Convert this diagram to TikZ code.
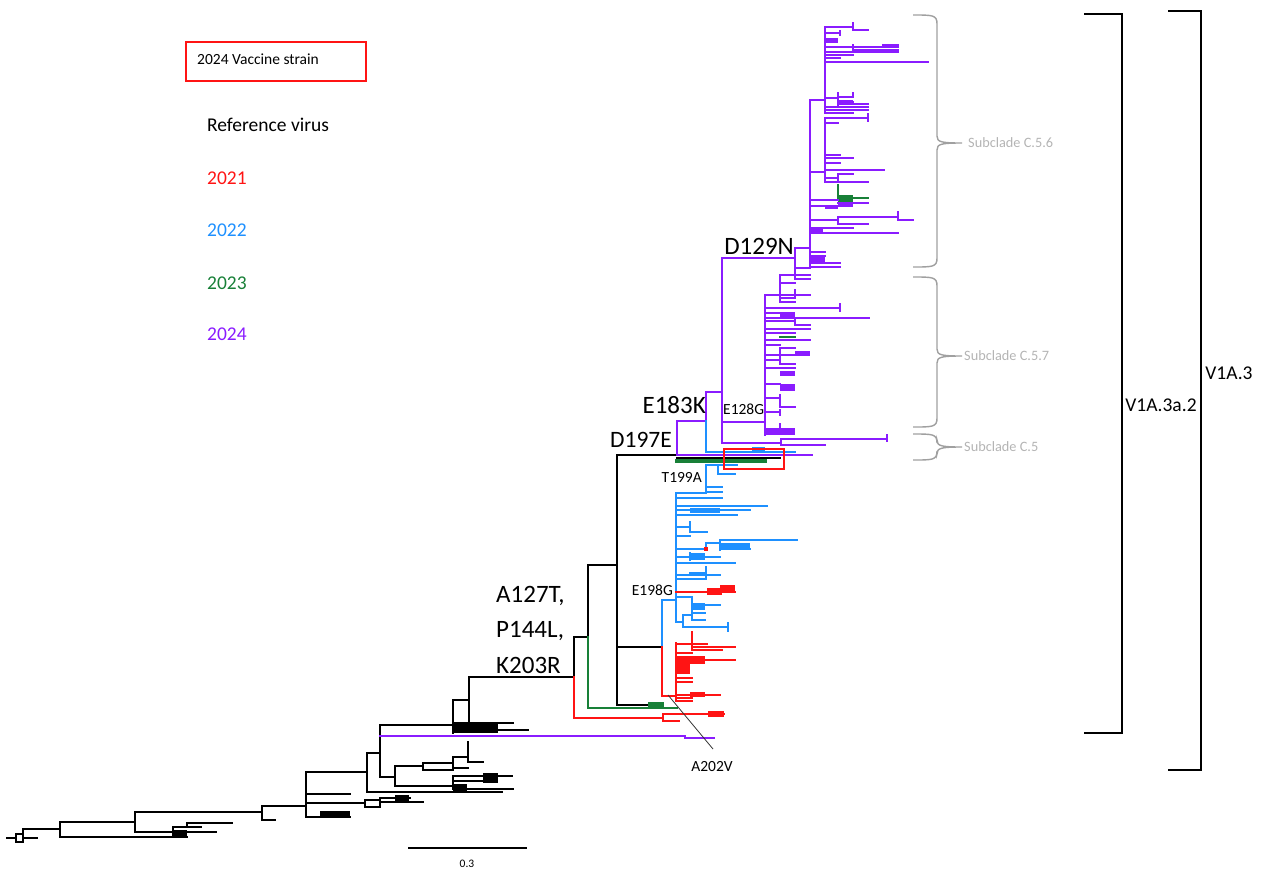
\documentclass[tikz,border=0pt]{standalone}
\usepackage{fontspec}
\setmainfont{Carlito}
\definecolor{cpu}{HTML}{8A1CFF}
\definecolor{cbl}{HTML}{1E90FF}
\definecolor{crd}{HTML}{FF1414}
\definecolor{cgr}{HTML}{188038}
\definecolor{cgy}{HTML}{A0A0A0}
\definecolor{clt}{HTML}{B4B4B4}
\newcommand{\subbrace}[3]{%
  \draw[cgy,line width=1.4pt] (913,#1) .. controls (933,#1) and (937,#1) .. (937,#1+9)
    -- (937,#3-7) .. controls (937,#3-1) and (941,#3) .. (962,#3)
    .. controls (941,#3) and (937,#3+1) .. (937,#3+7)
    -- (937,#2-9) .. controls (937,#2) and (933,#2) .. (913,#2);}
\tikzset{
  tk/.style={draw=black,line width=2.8pt,line cap=rect},
  tp/.style={draw=cpu,line width=2.8pt,line cap=rect},
  tb/.style={draw=cbl,line width=2.8pt,line cap=rect},
  tr/.style={draw=crd,line width=2.8pt,line cap=rect},
  tg/.style={draw=cgr,line width=2.8pt,line cap=rect},
  mut/.style={font=\fontsize{25}{30}\selectfont,inner sep=0pt},
  smut/.style={font=\fontsize{15.5}{18}\selectfont,inner sep=0pt},
  leg/.style={font=\fontsize{19.5}{23}\selectfont,inner sep=0pt,anchor=west},
  sub/.style={font=\fontsize{14.3}{17}\selectfont,text=clt,inner sep=0pt,anchor=west},
  clade/.style={font=\fontsize{19.5}{23}\selectfont,inner sep=0pt},
}
\begin{document}
\begin{tikzpicture}[x=1pt,y=-1pt]
\useasboundingbox (0,0) rectangle (1263,873);
% ---------------- root region (black)
\draw[tk] (7,838)--(16,838) (16,834)--(16,842) (16,834)--(23,834) (16,842)--(23,842);
\draw[tk] (23,829)--(23,842) (23,829)--(60,829) (23,838)--(37,838);
\draw[tk] (60,822)--(60,837) (60,837)--(187,837) (60,822)--(135,822);
\draw[tk] (135,812)--(135,832) (135,832)--(173,832) (173,827)--(173,837);
\draw[tk] (173,827)--(187,827) (187,823)--(187,827) (187,823)--(232,823) (187,827)--(201,827) (187,832)--(216,832);
\fill (173,830) rectangle (187,838);
\draw[tk] (135,812)--(262,812) (262,806)--(262,820) (262,820)--(275,820) (262,806)--(306,806);
% node 306
\draw[tk] (306,772)--(306,817) (306,772)--(367,772) (306,794)--(350,794) (306,803)--(365,803);
\draw[tk] (365,800)--(365,807) (365,800)--(380,800) (365,807)--(380,807) (380,798)--(380,807);
\draw[tk] (380,798)--(410,798) (380,802)--(423,802);
\fill (395,795) rectangle (409,803);
\draw[tk] (306,817)--(350,817);
\fill (320,811) rectangle (350,818);
% node 367
\draw[tk] (367,753)--(367,792) (367,753)--(380,753) (367,792)--(502,792) (453,789)--(513,789);
\fill (453,784) rectangle (467,792);
% node 380
\draw[tk] (380,725)--(380,777) (380,725)--(453,725) (380,777)--(395,777);
\draw[tk] (395,766)--(395,786) (395,766)--(423,766) (423,763)--(423,770) (423,763)--(453,763) (423,770)--(453,770);
\draw[tk] (453,757)--(453,768) (453,757)--(468,757) (468,742)--(468,762) (468,762)--(483,762) (453,768)--(468,768);
\draw[tk] (395,786)--(453,786) (453,776)--(453,788) (453,776)--(512,776) (453,781)--(483,781);
\fill (483,773) rectangle (498,783);
% node 453 upper
\draw[tk] (453,700)--(453,733) (453,700)--(469,700) (469,677)--(469,723) (469,723)--(513,723) (453,730)--(528,730);
\fill (453,722) rectangle (498,733);
\draw[tk] (469,677)--(574,677);
% purple long 2024 branch
\draw[tp] (380,736)--(685,736)--(685,738)--(714,738);
% node 574
\draw[tk] (574,637)--(574,677);
\draw[tr] (574,677)--(574,718)--(663,718) (663,714)--(663,721) (663,714)--(724,714) (663,721)--(679,721);
\fill[crd] (708,711) rectangle (724,717);
\draw[tk] (574,637)--(588,637) (588,565)--(588,637);
\draw[tg] (588,637)--(588,708)--(677,708);
\draw[tk] (588,565)--(617,565) (617,455)--(617,705) (617,705)--(661,705) (617,647)--(662,647);
\fill[cgr] (648,702) rectangle (664,708);
\draw[tb] (662,647)--(662,600)--(676,600);
\draw[tr] (662,647)--(662,696)--(676,696);
% red subtree
\draw[tr] (676,643)--(676,701) (676,644)--(692,644) (692,632)--(692,650);
\draw[tr] (692,644)--(707,644) (692,647)--(735,647) (692,650)--(722,650) (676,653)--(692,653);
\draw[tr] (676,660)--(735,660) (676,678)--(692,678) (676,682)--(692,682) (676,695)--(720,695) (676,698)--(692,698) (676,701)--(692,701);
\fill[crd] (676,656) rectangle (705,664);
\fill[crd] (676,664) rectangle (690,674);
\fill[crd] (690,692) rectangle (705,697);
% blue subtree
\draw[tb] (676,493)--(676,622) (676,493)--(706,493) (706,465)--(706,493) (706,465)--(737,465);
\draw[tb] (718,465)--(718,474) (718,474)--(735,474) (706,487)--(722,487) (706,492)--(722,492) (676,498)--(722,498);
\draw[tb] (676,506)--(767,506) (676,510)--(750,510) (676,515)--(737,515);
\fill[cbl] (690,508) rectangle (720,513);
\draw[tb] (690,522)--(690,532)--(707,532) (676,527)--(690,527) (676,536)--(690,536);
\draw[tb] (676,549)--(706,549) (706,543)--(706,549) (706,543)--(720,543) (720,540)--(720,550) (720,540)--(797,540) (720,549)--(750,549);
\fill[cbl] (720,543) rectangle (750,549);
\fill[crd] (704,547) rectangle (708,551);
\draw[tb] (676,557)--(720,557) (690,553)--(690,560);
\fill[cbl] (690,553) rectangle (705,560);
\draw[tb] (676,563)--(735,563) (706,567)--(706,578) (676,575)--(720,575) (690,573)--(706,573) (676,579)--(706,579);
\draw[tr] (676,592)--(735,592);
\fill[crd] (707,588) rectangle (722,595);
\fill[crd] (720,585) rectangle (735,591);
\draw[tb] (676,597)--(692,597) (692,599)--(692,620) (692,605)--(720,605) (692,613)--(705,613) (692,620)--(705,620);
\fill[cbl] (692,603) rectangle (705,610);
\draw[tb] (676,622)--(683,622) (683,615)--(683,627) (683,615)--(692,615) (683,627)--(728,627) (728,623)--(728,631);
% E183K / D197E region
\draw[tk] (617,455)--(677,455);
\draw[tp] (677,421)--(677,455) (677,455)--(812,455);
\draw[tg,line width=3.4pt] (677,461)--(765,461);
\draw[tk] (677,458)--(780,458);
\draw[tp] (677,421)--(706,421) (706,392)--(706,421);
\draw[tb] (706,421)--(706,452)--(795,452);
\fill[cbl] (752,447) rectangle (765,451);
\draw[tp] (706,392)--(722,392) (722,258)--(722,443) (722,258)--(795,258) (722,422)--(765,422);
\draw[tp] (722,443)--(781,443) (781,439)--(781,445) (781,439)--(887,439) (887,435)--(887,441) (781,445)--(825,445);
% vaccine red box
\draw[crd,line width=1.2pt] (724,449) rectangle (784,469);
% C.5.7 subtree
\draw[tp] (765,295)--(765,435) (765,295)--(780,295) (780,275)--(780,302) (780,275)--(810,275);
\draw[tp] (795,270)--(795,279) (795,279)--(810,279) (780,283)--(795,283) (780,295)--(810,295) (795,290)--(795,298);
\draw[tp] (780,298)--(795,298) (780,302)--(795,302);
\draw[tp] (765,308)--(840,308) (840,304)--(840,311) (765,318)--(869,318) (765,313)--(780,313);
\fill[cpu] (780,312) rectangle (795,318);
\draw[tp] (765,321)--(795,321) (795,320)--(795,325) (795,325)--(810,325) (765,329)--(810,329) (765,333)--(795,333);
\draw[tg] (780,337)--(795,337);
\draw[tp] (765,340)--(810,340) (765,345)--(780,345) (780,348)--(780,362) (780,348)--(795,348);
\fill[cpu] (795,351) rectangle (810,356);
\draw[tp] (765,355)--(795,355) (765,360)--(780,360) (780,364)--(795,364) (765,368)--(795,368);
\fill[cpu] (780,371) rectangle (795,376);
\draw[tp] (765,384)--(780,384);
\fill[cpu] (780,384) rectangle (795,391);
\draw[tp] (765,398)--(780,398) (780,395)--(780,407) (780,407)--(795,407) (765,412)--(780,412) (780,410)--(780,415);
\fill[cpu] (765,428) rectangle (795,435);
\draw[tp] (780,424)--(780,430);
% D129N clade
\draw[tp] (795,248)--(795,268) (795,248)--(810,248) (795,268)--(810,268) (810,100)--(810,268);
\draw[tp] (810,252)--(825,252) (810,256)--(825,256) (810,263)--(840,263) (810,267)--(840,267);
\fill[cpu] (810,257) rectangle (825,263);
\draw[tp] (810,100)--(825,100) (825,27)--(825,113);
\draw[tp] (825,27)--(853,27) (853,23)--(853,30) (853,30)--(868,30) (825,33)--(840,33) (840,31)--(840,35);
\fill[cpu] (825,38) rectangle (838,43);
\draw[tp] (825,47)--(853,47) (853,45)--(853,50) (853,47)--(898,47) (883,45)--(898,45) (853,50)--(898,50);
\draw[tp] (825,52)--(898,52) (825,55)--(853,55) (825,58)--(840,58) (825,62)--(928,62);
\draw[tp] (825,98)--(838,98) (838,93)--(838,107) (838,97)--(853,97) (853,93)--(853,97) (838,102)--(853,102) (838,104)--(868,104);
\draw[tp] (825,107)--(868,107) (825,110)--(868,110) (825,113)--(853,113);
\fill[cpu] (838,100) rectangle (853,104);
\draw[tp] (810,172)--(825,172) (825,118)--(825,182) (825,118)--(868,118) (868,114)--(868,121) (825,123)--(838,123);
\draw[tp] (825,155)--(840,155) (825,158)--(853,158) (825,163)--(840,163) (825,170)--(884,170);
\draw[tp] (838,174)--(838,180) (838,174)--(853,174) (825,178)--(838,178) (825,182)--(868,182);
\draw[tg] (838,185)--(838,198) (838,198)--(868,198);
\fill[cgr] (838,195) rectangle (853,202);
\draw[tp] (810,200)--(838,200) (838,203)--(868,203);
\fill[cpu] (838,202) rectangle (853,207);
\draw[tp] (810,206)--(825,206);
\fill[cpu] (825,205) rectangle (838,209);
\draw[tp] (810,220)--(838,220) (838,217)--(838,224) (838,217)--(898,217) (898,212)--(898,220) (898,220)--(913,220) (838,224)--(868,224);
\draw[tp] (810,228)--(853,228) (810,233)--(898,233);
\fill[cpu] (810,228) rectangle (823,232);
% ---------------- braces and labels
\subbrace{15}{267}{143}
\subbrace{277}{427}{356}
\subbrace{434}{460}{447}
\node[sub] (s56) at (968,143) {Subclade C.5.6};
\node[sub] (s57) at (964,356) {Subclade C.5.7};
\node[sub] (s5) at (964,447) {Subclade C.5};
\draw[line width=2.4pt] (1084,14)--(1122,14)--(1122,733)--(1084,733);
\draw[line width=2.4pt] (1168,11)--(1201,11)--(1201,770)--(1168,770);
\node[clade] (v1a32) at (1161,405) {V1A.3a.2};
\node[clade] (v1a3) at (1229,373) {V1A.3};
% mutation labels
\node[mut,anchor=east] (d129n) at (794,246) {D129N};
\node[mut,anchor=east] (e183k) at (706,405) {E183K};
\node[mut,anchor=east,font=\fontsize{23.5}{28}\selectfont] (d197e) at (672,440) {D197E};
\node[mut,anchor=west] (a127t) at (496,596) {A127T,};
\node[mut,anchor=west] (p144l) at (496,631) {P144L,};
\node[mut,anchor=west] (k203r) at (496,665) {K203R};
\node[smut,anchor=west] (e128g) at (723,409) {E128G};
\node[smut,anchor=east] (t199a) at (702,477) {T199A};
\node[smut,anchor=east] (e198g) at (673,590) {E198G};
\node[smut] (a202v) at (712,767) {A202V};
\coordinate (a202tip) at (668,695);
\coordinate (a202end) at (713,749);
\draw[line width=0.8pt,black!80] (a202tip)--(a202end);
% scale bar
\draw[line width=1.3pt] (408,848)--(527,848);
\node[font=\fontsize{11.5}{13}\selectfont,inner sep=0pt] (sc) at (467,864) {0.3};
% legend
\draw[crd,line width=1.3pt] (186,42) rectangle (366,81);
\node[font=\fontsize{15.5}{18}\selectfont,inner sep=0pt,anchor=west] (vac) at (197,59) {2024 Vaccine strain};
\node[leg] (ref) at (207,125) {Reference virus};
\node[leg,text=crd] (y21) at (207,178) {2021};
\node[leg,text=cbl] (y22) at (207,230) {2022};
\node[leg,text=cgr] (y23) at (207,283) {2023};
\node[leg,text=cpu] (y24) at (207,334) {2024};
\end{tikzpicture}
\end{document}
